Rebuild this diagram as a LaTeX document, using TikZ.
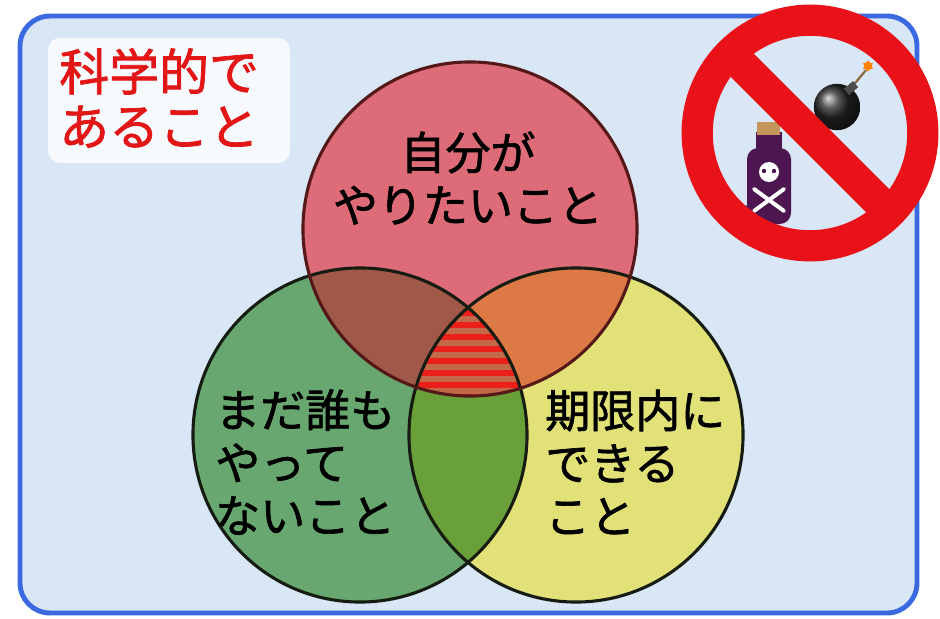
\documentclass[tikz,border=0pt]{standalone}
\usepackage{fontspec}
\newfontfamily\jp{Noto Sans CJK JP}[FakeBold=1.5]
\usetikzlibrary{shapes.geometric}

\definecolor{bgblue}{RGB}{216,230,245}
\definecolor{frameblue}{RGB}{58,105,225}
\definecolor{titlered}{RGB}{226,22,22}
\definecolor{wantred}{RGB}{221,108,120}
\definecolor{novelgreen}{RGB}{104,168,112}
\definecolor{doableyellow}{RGB}{226,225,120}
\definecolor{rgbrown}{RGB}{160,88,72}
\definecolor{ryorange}{RGB}{221,121,68}
\definecolor{gygreen}{RGB}{106,160,58}
\definecolor{stripebase}{RGB}{195,104,72}
\definecolor{stripered}{RGB}{236,32,26}
\definecolor{redline}{RGB}{85,24,24}
\definecolor{darkline}{RGB}{22,28,18}
\definecolor{banred}{RGB}{232,18,24}
\definecolor{bottlepurple}{RGB}{78,22,80}
\definecolor{corkbrown}{RGB}{196,150,90}
\definecolor{puddleblue}{RGB}{40,130,190}

\begin{document}
\begin{tikzpicture}[x=0.025cm, y=-0.025cm,
    ring/.style={line width=2.2pt},
    circtext/.style={font=\jp\fontsize{32}{37.5}\selectfont, inner sep=0pt,
                     text=black},
    titletext/.style={font=\jp\fontsize{35.5}{39}\selectfont, inner sep=0pt,
                      text=titlered, align=left}
  ]
  \useasboundingbox (0,0) rectangle (940,618);

  % board
  \draw[fill=bgblue, draw=frameblue, line width=3.5pt, rounded corners=0.75cm]
    (20,16) rectangle (917,613);

  % the three sets
  \def\rad{4.175cm}
  \coordinate (cR) at (470,229);
  \coordinate (cG) at (360,435);
  \coordinate (cY) at (576,435);

  \fill[wantred] (cR) circle[radius=\rad];
  \fill[novelgreen] (cG) circle[radius=\rad];
  \fill[doableyellow] (cY) circle[radius=\rad];

  \begin{scope}
    \clip (cR) circle[radius=\rad];
    \fill[rgbrown] (cG) circle[radius=\rad];
    \fill[ryorange] (cY) circle[radius=\rad];
  \end{scope}
  \begin{scope}
    \clip (cG) circle[radius=\rad];
    \fill[gygreen] (cY) circle[radius=\rad];
  \end{scope}

  % striped centre
  \begin{scope}
    \clip (cR) circle[radius=\rad];
    \clip (cG) circle[radius=\rad];
    \clip (cY) circle[radius=\rad];
    \fill[stripebase] (400,290) rectangle (540,405);
    \foreach \y in {310,322,...,394}
      \fill[stripered] (400,\y) rectangle (540,\y+6);
  \end{scope}

  \draw[ring, draw=darkline] (cG) circle[radius=\rad];
  \draw[ring, draw=darkline] (cY) circle[radius=\rad];
  \draw[ring, draw=redline] (cR) circle[radius=\rad];

  \node[circtext, align=center] (want) at (468,178) {自分が\\やりたいこと};
  \node[circtext, align=left, anchor=west] (novel) at (215,462)
    {まだ誰も\\やって\\ないこと};
  \node[circtext, align=left, anchor=west] (doable) at (545,462)
    {期限内に\\できる\\こと};

  % heading
  \fill[white, opacity=0.8, rounded corners=0.3cm] (48,38) rectangle (290,163);
  \node[titletext, anchor=west] (title) at (59,98) {科学的で\\あること};

  % poison bottle
  \fill[puddleblue] (744,213) ellipse[x radius=0.32cm, y radius=0.2cm];
  \fill[bottlepurple, rounded corners=8pt] (747,148) rectangle (791,224);
  \fill[bottlepurple] (756,132) rectangle (782,156);
  \fill[corkbrown] (757,122) rectangle (780,135);
  \fill[white] (769,172) circle[radius=0.25cm];
  \fill[bottlepurple] (764,171) circle[radius=0.055cm] (774,171) circle[radius=0.055cm];
  \draw[white, line width=2.8pt, line cap=round]
    (754,189) -- (784,211) (784,189) -- (754,211);

  % bomb
  \draw[corkbrown!70!black, line width=1.6pt] (851,88) -- (866,70);
  \shade[ball color=black!85] (837,107) circle[radius=0.58cm];
  \fill[black!70, rotate around={40:(851,88)}] (845,84) rectangle (857,92);
  \node[star, star points=6, fill=orange, inner sep=0pt, minimum size=0.28cm]
    (spark) at (868,66) {};

  % prohibition sign
  \coordinate (ban) at (810,133);
  \draw[banred, line width=0.78cm] (ban) circle[radius=2.82cm];
  \begin{scope}
    \clip (ban) circle[radius=2.5cm];
    \draw[banred, line width=0.82cm] (710,33) -- (910,233);
  \end{scope}
\end{tikzpicture}
\end{document}
